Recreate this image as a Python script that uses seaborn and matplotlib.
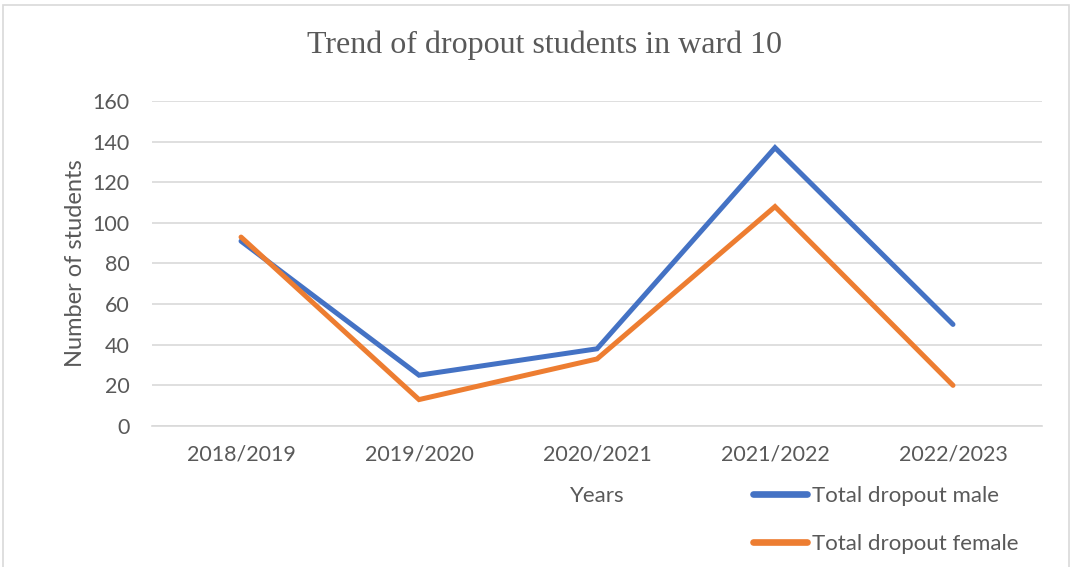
import matplotlib
matplotlib.use("Agg")
import matplotlib.pyplot as plt
import seaborn as sns
import pandas as pd
from matplotlib.patches import Rectangle
from matplotlib.lines import Line2D

years = ["2018/2019", "2019/2020", "2020/2021", "2021/2022", "2022/2023"]
male = [91, 25, 38, 137, 50]
female = [93, 13, 33, 108, 20]
series_names = ["Total dropout male", "Total dropout female"]
yticks = [0, 20, 40, 60, 80, 100, 120, 140, 160]

sns.set_theme(style="white")
plt.rcParams['font.family'] = ['Lato', 'DejaVu Sans']

TXT = "#595959"
colors = {"Total dropout male": "#4472C4", "Total dropout female": "#ED7D31"}

df = pd.DataFrame({
    "Years": years * 2,
    "Number of students": male + female,
    "Series": [series_names[0]] * len(years) + [series_names[1]] * len(years),
})
df["x"] = list(range(len(years))) * 2

fig = plt.figure(figsize=(10.73, 5.67), dpi=100)
fig.patch.set_facecolor("white")
fig.patches.append(Rectangle((3 / 1073, -0.01), 1066 / 1073, 1 - 5 / 567 + 0.01,
                             transform=fig.transFigure, fill=False,
                             edgecolor="#D9D9D9", linewidth=1.2))

ax = fig.add_axes([0.1417, 0.2487, 0.8294, 0.5732])
sns.lineplot(data=df, x="x", y="Number of students", hue="Series",
             palette=colors, linewidth=3.6, ax=ax, legend=False,
             solid_capstyle="round", solid_joinstyle="miter")

ax.set_xlim(-0.5, len(years) - 0.5)
ax.set_ylim(0, 160)
ax.set_yticks(yticks)
ax.set_yticklabels([str(t) for t in yticks])
ax.set_xticks(range(len(years)))
ax.set_xticklabels(years)
ax.tick_params(axis="both", length=0, labelsize=15.5, labelcolor=TXT)
ax.tick_params(axis="x", pad=13)
ax.tick_params(axis="y", pad=16)
ax.grid(axis="y", color="#D9D9D9", linewidth=1.2)
ax.set_axisbelow(True)
for s in ["top", "right", "left"]:
    ax.spines[s].set_visible(False)
ax.spines["bottom"].set_color("#D9D9D9")
ax.spines["bottom"].set_linewidth(1.2)

ax.set_xlabel("Years", fontsize=16, color=TXT, labelpad=16)
ax.set_ylabel("Number of students", fontsize=17, color=TXT, labelpad=5)

fig.text(0.507, 0.92, "Trend of dropout students in ward 10",
         ha="center", va="center", fontsize=23, color=TXT,
         family=["Liberation Serif", "DejaVu Serif"])

handles = [Line2D([0], [0], color=colors[n], linewidth=4.8, solid_capstyle="round")
           for n in series_names]
leg = fig.legend(handles, series_names, loc="upper left",
                 bbox_to_anchor=(733 / 1073, 1 - 466 / 567), frameon=False,
                 fontsize=16, handlelength=2.45, handletextpad=0.2,
                 labelspacing=1.25)
for t in leg.get_texts():
    t.set_color(TXT)

fig.savefig("out.png", dpi=100, facecolor="white")
